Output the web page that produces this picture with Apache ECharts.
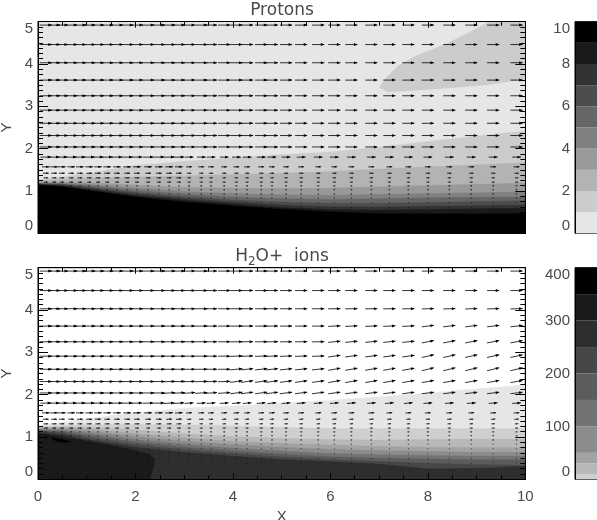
<!DOCTYPE html>
<html><head><meta charset="utf-8">
<style>html,body{margin:0;padding:0;background:#fff}#c{width:597px;height:520px;filter:blur(0.4px)}</style>
<script src="https://cdn.jsdelivr.net/npm/echarts@6/dist/echarts.min.js"></script>
</head><body><div id="c"></div>
<script>
// Contour boundary knots (x positions)
const xKnots = [0,0.5,1,2,3,4,5,6,7,8,9,10];
// Protons: top edge of each contour band
const pTop1 = [1.26,1.33,1.42,1.60,1.70,1.78,1.86,1.92,2.04,2.17,2.30,2.42];
const pTop2 = [1.24,1.27,1.30,1.33,1.36,1.39,1.42,1.46,1.52,1.57,1.62,1.67];
const pTop3 = [1.20,1.21,1.20,1.14,1.09,1.07,1.06,1.07,1.10,1.13,1.16,1.19];
const pTop4 = [1.19,1.19,1.16,1.07,0.99,0.94,0.91,0.90,0.92,0.94,0.96,0.98];
const pTop5 = [1.18,1.17,1.13,1.02,0.93,0.86,0.82,0.80,0.82,0.84,0.85,0.865];
const pTop6 = [1.17,1.16,1.10,0.97,0.87,0.79,0.74,0.71,0.71,0.73,0.75,0.77];
const pTop7 = [1.16,1.14,1.07,0.93,0.82,0.74,0.67,0.63,0.62,0.64,0.65,0.67];
const pTop8 = [1.15,1.12,1.04,0.89,0.78,0.69,0.61,0.56,0.55,0.56,0.58,0.59];
const pTop9 = [1.14,1.10,1.02,0.86,0.74,0.65,0.57,0.51,0.47,0.46,0.46,0.47];
const pBlob = [[7.01,3.45],[7.13,3.66],[7.37,3.94],[7.72,4.17],[8.4,4.49],[8.87,4.76],[9.25,5],[10,5],[10,3.64],[9.15,3.5],[8.05,3.4],[7.17,3.34]];
const pColors = ['#cccccc','#b3b3b3','#999999','#808080','#666666','#4d4d4d','#333333','#1a1a1a','#000000'];
// H2O+: top edge of each contour band
const hTop1 = [1.27,1.35,1.43,1.58,1.68,1.74,1.80,1.87,1.95,2.04,2.14,2.23];
const hTop2 = [1.25,1.27,1.29,1.30,1.29,1.26,1.23,1.20,1.20,1.20,1.20,1.20];
const hTop3 = [1.23,1.24,1.23,1.17,1.08,1.01,0.97,0.94,0.93,0.94,0.95,0.95];
const hTop4 = [1.21,1.22,1.19,1.08,0.98,0.90,0.85,0.81,0.78,0.76,0.75,0.75];
const hTop5 = [1.19,1.19,1.14,1.01,0.90,0.82,0.76,0.71,0.68,0.66,0.64,0.64];
const hTop6 = [1.17,1.16,1.09,0.94,0.83,0.74,0.67,0.61,0.58,0.56,0.55,0.55];
const hTop7 = [1.15,1.13,1.04,0.88,0.76,0.67,0.59,0.53,0.50,0.48,0.46,0.46];
const hTop8 = [1.13,1.10,0.99,0.82,0.70,0.61,0.53,0.47,0.42,0.38,0.35,0.33];
const hTop9 = [1.11,1.06,0.94,0.76,0.64,0.55,0.47,0.42,0.36,0.25,0.26,0.31];
const hCore = [[0,1.09],[0.5,1.0],[1.27,0.85],[1.95,0.69],[2.29,0.59],[2.41,0.46],[2.37,0.3],[2.3,0],[0,0]];
const hSpot = [[0.25,0.99],[0.4,0.96],[0.67,0.9],[0.6,0.87],[0.4,0.89],[0.3,0.95]];
const hColors = ['#e6e6e6','#cfcfcf','#b8b8b8','#a3a3a3','#8c8c8c','#737373','#5c5c5c','#474747','#2e2e2e'];
// Colour bars
const pLevels = [0,1,2,3,4,5,6,7,8,9,10];
const pBarColors = ['#e6e6e6','#cccccc','#b3b3b3','#999999','#808080','#666666','#4d4d4d','#333333','#1a1a1a','#000000'];
const hLevels = [0,10,30,50,100,150,200,250,300,350,400];
const hBarColors = ['#cfcfcf','#b8b8b8','#a3a3a3','#8c8c8c','#737373','#5c5c5c','#474747','#2e2e2e','#1a1a1a','#000000'];
// Vector grid
const arrowX = [0.16,0.33,0.49,0.68,0.86,1.05,1.23,1.42,1.62,1.83,2.03,2.26,2.48,2.69,2.89,3.10,3.35,3.55,3.82,4.07,4.29,4.58,4.8,5.09,5.4,5.75,6.08,6.43,6.84,7.21,7.6,8.0,8.44,8.89,9.34,9.82];
const arrowY = [4.92,4.46,4.03,3.62,3.25,2.91,2.6,2.31,2.04,1.8,1.57,1.42,1.31,1.21,1.12,1.03,0.93,0.83,0.72,0.6,0.5,0.38,0.22,0.1];
// Arrow length per row, in x units: near the inner edge and further out
const lenNear = [.25,.25,.25,.25,.25,.25,.25,.25,.25,.22,.16,.12,.10,.08,.03,.025,.02,.015,.012,.012,.012,.012,.012,.012];
const lenFar  = [.25,.25,.25,.25,.25,.25,.25,.25,.25,.18,.12,.09,.07,.06,.04,.035,.03,.02,.015,.012,.012,.012,.012,.012];
// H2O+ slope per row for x groups <2.5, <4, <6, <8, <=10
const tiltEdges = [2.5,4,6,8,10.1];
const hTilt = [
 [0,0,0,0,0],[0,0,0,0,0],[0,0,0,.02,.04],[0,0,0,.06,.14],[0,0,.02,.12,.22],[0,0,.04,.16,.25],
 [0,0,.12,.2,.28],[0,.04,.16,.2,.2],[0,.08,.15,.15,.14],[.02,.08,.1,.1,.08],[.02,.06,.08,.08,.06],
 [0,.04,.05,.05,.05],[0,.02,.03,.03,.03],[0,0,0,0,0],[0,0,0,0,0],[0,0,0,0,0],[0,0,0,0,0],[0,0,0,0,0],[0,0,0,0,0],[0,0,0,0,0],[0,0,0,0,0],[0,0,0,0,0],[0,0,0,0,0],[0,0,0,0,0]];

function closed(top){ return xKnots.map((x,i)=>[x,top[i]]).concat([[10,0],[0,0]]); }
const pShapes = [
 {c:'#e6e6e6',p:[[0,0],[0,5],[10,5],[10,0]]},{c:'#cccccc',p:pBlob},
 {c:pColors[0],p:closed(pTop1)},{c:pColors[1],p:closed(pTop2)},{c:pColors[2],p:closed(pTop3)},
 {c:pColors[3],p:closed(pTop4)},{c:pColors[4],p:closed(pTop5)},{c:pColors[5],p:closed(pTop6)},
 {c:pColors[6],p:closed(pTop7)},{c:pColors[7],p:closed(pTop8)},{c:pColors[8],p:closed(pTop9)}];
const hShapes = [
 {c:hColors[0],p:closed(hTop1)},{c:hColors[1],p:closed(hTop2)},{c:hColors[2],p:closed(hTop3)},
 {c:hColors[3],p:closed(hTop4)},{c:hColors[4],p:closed(hTop5)},{c:hColors[5],p:closed(hTop6)},
 {c:hColors[6],p:closed(hTop7)},{c:hColors[7],p:closed(hTop8)},{c:hColors[8],p:closed(hTop9)},
 {c:'#1a1a1a',p:hCore},{c:'#000000',p:hSpot}];

function contour(shapes,xi,yi){
 return {type:'custom',xAxisIndex:xi,yAxisIndex:yi,silent:true,z:2,clip:true,encode:{x:1,y:2},
  data:shapes.map((s,i)=>[i,s.p[0][0],s.p[0][1]]),
  renderItem(params,api){
   const s=shapes[api.value(0)];
   return {type:'polygon',shape:{points:s.p.map(q=>api.coord(q))},style:{fill:s.c,stroke:s.c,lineWidth:0.3}};
  }};
}
function arrowData(tilted){
 const out=[];
 arrowY.forEach((y,r)=>arrowX.forEach((x)=>{
  const u=x<3?lenNear[r]:lenFar[r];
  const t=tilted?hTilt[r][tiltEdges.findIndex(e=>x<e)]:0;
  out.push([x,y,u,u*t]);
 }));
 return out;
}
function arrows(data,xi,yi){
 return {type:'custom',xAxisIndex:xi,yAxisIndex:yi,silent:true,z:5,clip:false,encode:{x:0,y:1},data,
  renderItem(params,api){
   const x=api.value(0),y=api.value(1),u=api.value(2),v=api.value(3);
   const a=api.coord([x-u/2,y-v/2]),b=api.coord([x+u/2,y+v/2]);
   const dx=b[0]-a[0],dy=b[1]-a[1],L=Math.hypot(dx,dy)||1,ux=dx/L,uy=dy/L;
   const h=Math.min(3.5,L*0.45),w=Math.min(1.5,L*0.15);
   return {type:'group',children:[
    {type:'line',shape:{x1:a[0],y1:a[1],x2:b[0],y2:b[1]},style:{stroke:'#000',lineWidth:0.8}},
    {type:'polygon',shape:{points:[b,[b[0]-ux*h-uy*w,b[1]-uy*h+ux*w],[b[0]-ux*h+uy*w,b[1]-uy*h-ux*w]]},style:{fill:'#000'}}
   ]};
  }};
}
function colorbar(levels,colors,xi,yi){
 return {type:'custom',xAxisIndex:xi,yAxisIndex:yi,silent:true,z:2,encode:{x:0,y:1},
  data:colors.map((c,i)=>[0,levels[i],levels[i+1],i]),
  renderItem(params,api){
   const a=api.coord([0,api.value(1)]),b=api.coord([1,api.value(2)]);
   return {type:'rect',shape:{x:a[0],y:b[1],width:b[0]-a[0],height:a[1]-b[1]},style:{fill:colors[api.value(3)]}};
  }};
}
const font={fontFamily:'Liberation Sans',fontSize:15,color:'#4a4a4a'};
const axLine={lineStyle:{color:'#000',width:1}};
function xAx(grid,pos,labels,name){return {type:'value',gridIndex:grid,position:pos,min:0,max:10,interval:2,z:10,
 name:name||'',nameLocation:'middle',nameGap:30,nameMoveOverlap:false,nameTextStyle:font,
 axisLine:{show:true,onZero:false,...axLine},axisTick:{show:true,inside:true,length:6,lineStyle:{color:'#000',width:1}},
 minorTick:{show:true,splitNumber:4,length:4,lineStyle:{color:'#000',width:1}},splitLine:{show:false},
 axisLabel:{show:labels,margin:10,...font}};}
function yAx(grid,pos,labels,name){return {type:'value',gridIndex:grid,position:pos,min:0,max:5,interval:1,z:10,
 name:name||'',nameLocation:'middle',nameGap:24,nameMoveOverlap:false,nameRotate:90,nameTextStyle:font,
 axisLine:{show:true,onZero:false,...axLine},axisTick:{show:true,inside:true,length:10,lineStyle:{color:'#000',width:1}},
 minorTick:{show:true,splitNumber:8,length:5,lineStyle:{color:'#000',width:1}},splitLine:{show:false},
 axisLabel:{show:labels,margin:5,verticalAlignMinLabel:'bottom',verticalAlignMaxLabel:'top',...font}};}
function cbX(grid){return {type:'value',gridIndex:grid,min:0,max:1,show:false};}
function cbY(grid,max,interval){return {type:'value',gridIndex:grid,min:0,max,interval,z:10,
 axisLine:{show:true,onZero:false,...axLine},axisTick:{show:false},splitLine:{show:false},
 axisLabel:{margin:5,verticalAlignMinLabel:'bottom',verticalAlignMaxLabel:'top',...font}};}
const chart=echarts.init(document.getElementById('c'),null,{renderer:'canvas'});
const gridBase={show:true,borderColor:'#000',containLabel:false,outerBoundsMode:'none'};
chart.setOption({
 animation:false,backgroundColor:'#fff',
 title:[
  {text:'Protons',left:277,top:-3,textAlign:'center',textStyle:{fontFamily:'DejaVu Sans',fontSize:17,fontWeight:'normal',color:'#4a4a4a'}},
  {text:'H{s|2}O+  ions',left:277,top:241,textAlign:'center',textStyle:{fontFamily:'DejaVu Sans',fontSize:17,fontWeight:'normal',color:'#4a4a4a',rich:{s:{fontFamily:'DejaVu Sans',fontSize:12,color:'#4a4a4a',padding:[10,0,0,0]}}}}
 ],
 grid:[
  {...gridBase,left:38,top:21.7,width:487.3,height:211.6,backgroundColor:'#fff'},
  {...gridBase,left:38,top:267.7,width:487.3,height:211.6,backgroundColor:'#fff'},
  {...gridBase,left:575,top:21.7,width:24,height:211.6},
  {...gridBase,left:575,top:267.7,width:24,height:211.6}
 ],
 xAxis:[xAx(0,'bottom',false),xAx(0,'top',false),xAx(1,'bottom',true,'X'),xAx(1,'top',false),cbX(2),cbX(3)],
 yAxis:[yAx(0,'left',true,'Y'),yAx(0,'right',false),yAx(1,'left',true,'Y'),yAx(1,'right',false),cbY(2,10,2),cbY(3,400,100)],
 series:[
  contour(pShapes,0,0),arrows(arrowData(false),0,0),
  contour(hShapes,2,2),arrows(arrowData(true),2,2),
  colorbar(pLevels,pBarColors,4,4),colorbar(hLevels,hBarColors,5,5)
 ]
});
</script></body></html>
